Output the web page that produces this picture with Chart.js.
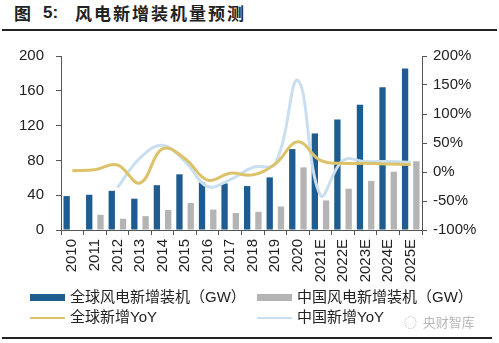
<!DOCTYPE html>
<html>
<head>
<meta charset="utf-8">
<script src="https://cdn.jsdelivr.net/npm/chart.js@4"></script>
<style>
    body { margin: 0; width: 499px; height: 343px; background: #fff; position: relative; overflow: hidden;
           font-family: "Liberation Sans", "Noto Sans CJK SC", sans-serif; color: #222; }
    .titulo { position: absolute; top: 3px; font-size: 17px; line-height: 20px; font-weight: bold; font-family: "Noto Sans CJK SC", sans-serif; white-space: nowrap; }
    .regua { position: absolute; height: 2px; background: #222; }
    #grafico { position: absolute; left: 0; top: 35px; }
    .leg { position: absolute; font-size: 15px; font-family: "Liberation Sans", "Noto Sans CJK SC", sans-serif; line-height: 18px; }
    .leg span { position: absolute; left: 0; width: 35px; }
    .leg b { font-weight: normal; position: absolute; left: 40px; white-space: nowrap; top: 0; }
    #marca { position: absolute; left: 404px; top: 312px; font-size: 13px; color: #b8b8b8; font-family: "Noto Sans CJK SC", sans-serif; white-space: nowrap; }
</style>
</head>
<body>
<div class="titulo" style="left:14px;">图</div>
<div class="titulo" style="left:43px; font-family:'Liberation Sans', sans-serif;">5:</div>
<div class="titulo" style="left:75px; letter-spacing:2px;">风电新增装机量预测</div>
<div class="regua" style="left:2px; width:495px; top:29px;"></div>

<canvas id="grafico" width="499" height="255"></canvas>

<div class="leg" style="left:30px; top:288px;"><span style="top:6px; height:7px; background:#1f5c8f;"></span><b>全球风电新增装机（GW）</b></div>
<div class="leg" style="left:257px; top:288px;"><span style="top:6px; height:7px; background:#b4b4b4;"></span><b>中国风电新增装机（GW）</b></div>
<div class="leg" style="left:30px; top:308px;"><span style="top:9px; height:2px; background:#dcc268;"></span><b>全球新增YoY</b></div>
<div class="leg" style="left:257px; top:308px;"><span style="top:9px; height:2px; background:#c9dff0;"></span><b>中国新增YoY</b></div>
<div id="marca">◌ &nbsp;央财智库</div>
<div class="regua" style="left:2px; width:490px; top:337px;"></div>

<script>
// dados
const anos = ["2010", "2011", "2012", "2013", "2014", "2015", "2016", "2017", "2018", "2019",
              "2020", "2021E", "2022E", "2023E", "2024E", "2025E"];
const globalGW = [39, 40.5, 45, 36, 51.5, 64, 54.5, 53.5, 50.5, 60.5, 93, 111, 127, 144, 164, 185.5];
const chinaGW = [null, 17.5, 13, 16, 23, 31, 23.5, 19.5, 21, 27, 72, 34, 47.5, 56.5, 67, 79];
const globalYoY = [2, 4, 12, -19, 40, 23, -14, -2, -5, 14, 52, 20, 15, 15, 14, 13];
const chinaYoY = [null, null, -27, 24, 46, 18, -25, -13, 8, 15, 158, -40, 20, 18, 18, 17];
const ticksEsquerda = [0, 40, 80, 120, 160, 200];
const ticksDireita = [-100, -50, 0, 50, 100, 150, 200];

const fonte = { family: "Liberation Sans", size: 15 };
const corTexto = "#222";
const corEixo = "#555";

document.addEventListener("DOMContentLoaded", function () {

    const ctx = document.getElementById("grafico");

    new Chart(ctx, {
        type: "bar",

        data: {
            labels: anos,

            datasets: [
                {
                    type: "line",
                    label: "全球新增YoY",
                    data: globalYoY,
                    yAxisID: "y2",
                    borderColor: "#dcc268",
                    borderWidth: 3,
                    pointRadius: 0,
                    tension: 0.4,
                    order: 0
                },
                {
                    type: "line",
                    label: "中国新增YoY",
                    data: chinaYoY,
                    yAxisID: "y2",
                    borderColor: "#c9dff0",
                    borderWidth: 3,
                    pointRadius: 0,
                    tension: 0.4,
                    order: 1
                },
                {
                    label: "全球风电新增装机（GW）",
                    data: globalGW,
                    yAxisID: "y",
                    backgroundColor: "#1f5c8f",
                    barPercentage: 0.56,
                    categoryPercentage: 1,
                    order: 2
                },
                {
                    label: "中国风电新增装机（GW）",
                    data: chinaGW,
                    yAxisID: "y",
                    backgroundColor: "#b4b4b4",
                    barPercentage: 0.56,
                    categoryPercentage: 1,
                    order: 3
                }
            ]
        },

        options: {
            responsive: false,
            animation: false,

            layout: {
                padding: { top: 15, left: 0, right: 0, bottom: 0 }
            },

            plugins: {
                legend: { display: false },
                tooltip: { enabled: false }
            },

            scales: {
                x: {
                    grid: { display: true, drawOnChartArea: false, tickLength: 5, color: corEixo, offset: true },
                    border: { display: true, color: corEixo },
                    ticks: { color: corTexto, font: fonte, minRotation: 90, maxRotation: 90, padding: 4, autoSkip: false },
                    afterFit: function (scale) { scale.height = 60; }
                },

                y: {
                    position: "left",
                    min: 0,
                    max: 200,
                    afterBuildTicks: function (scale) {
                        scale.ticks = ticksEsquerda.map(v => ({ value: v }));
                    },
                    grid: { display: true, drawOnChartArea: false, tickLength: 5, color: corEixo },
                    border: { display: true, color: corEixo },
                    ticks: { color: corTexto, font: fonte, padding: 12 },
                    afterFit: function (scale) { scale.width = 61; }
                },

                y2: {
                    position: "right",
                    min: -100,
                    max: 200,
                    afterBuildTicks: function (scale) {
                        scale.ticks = ticksDireita.map(v => ({ value: v }));
                    },
                    grid: { display: true, drawOnChartArea: false, tickLength: 5, color: corEixo },
                    border: { display: true, color: corEixo },
                    ticks: {
                        color: corTexto,
                        font: fonte,
                        padding: 6,
                        callback: function (v) { return v + "%"; }
                    },
                    afterFit: function (scale) { scale.width = 77; }
                }
            }
        }
    });

});
</script>
</body>
</html>
